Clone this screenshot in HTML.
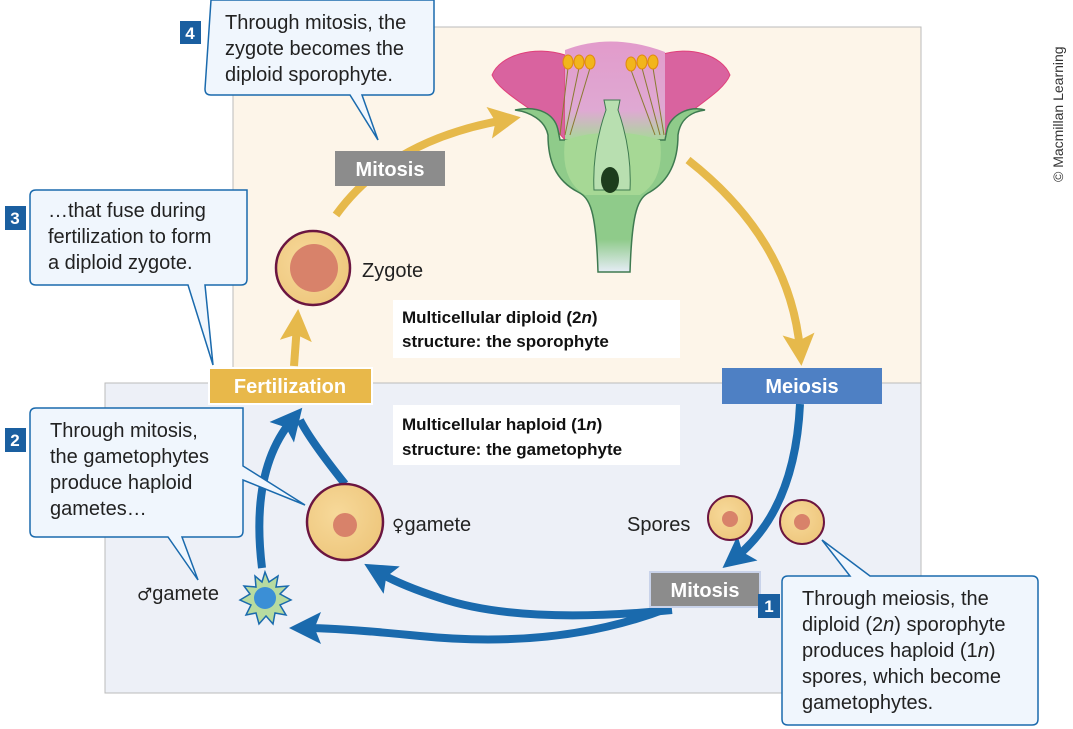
<!DOCTYPE html>
<html><head><meta charset="utf-8"><style>
body{margin:0;background:#fff}
svg{display:block;font-family:"Liberation Sans",sans-serif}
.t{font-size:20px;fill:#222}
.b{font-weight:bold}
.sym{font-family:"DejaVu Sans",sans-serif;font-size:17px}
</style></head><body>
<svg width="1073" height="729" viewBox="0 0 1073 729">
<defs>
<marker id="ya" markerWidth="4" markerHeight="4" refX="2" refY="2" orient="auto" markerUnits="strokeWidth"><path d="M0,0 L4,2 L0,4 L0.8,2z" fill="#e6b94b"/></marker>
<marker id="ba" markerWidth="4" markerHeight="4" refX="2" refY="2" orient="auto" markerUnits="strokeWidth"><path d="M0,0 L4,2 L0,4 L0.8,2z" fill="#1a6aad"/></marker>
<radialGradient id="cell" cx="0.4" cy="0.4" r="0.7"><stop offset="0" stop-color="#f7d99a"/><stop offset="1" stop-color="#edc57a"/></radialGradient>
<linearGradient id="pet" x1="0" y1="0" x2="0" y2="1"><stop offset="0" stop-color="#e29bcb"/><stop offset="0.7" stop-color="#dfa9d3"/><stop offset="1" stop-color="#a8d89a"/></linearGradient>
<linearGradient id="stem" x1="0" y1="0" x2="0" y2="1"><stop offset="0.8" stop-color="#8fcb8a"/><stop offset="1" stop-color="#e6ecf6"/></linearGradient>
</defs>
<rect x="233" y="27" width="688" height="356" fill="#fdf5e9" stroke="#bbb"/>
<rect x="105" y="383" width="816" height="310" fill="#edf0f7" stroke="#bbb"/>

<!-- flower -->
<g>
<path d="M565,55 C535,45 500,55 492,75 C500,95 540,110 565,140 Z" fill="#d9639f" stroke="#e0407a" stroke-width="1"/>
<path d="M660,55 C690,45 722,55 730,75 C722,95 685,110 660,140 Z" fill="#d9639f" stroke="#e0407a" stroke-width="1"/>
<path d="M565,50 Q612,32 665,52 L665,140 L565,140 Z" fill="url(#pet)"/>
<path d="M515,110 C540,105 555,115 558,130 L560,140 L665,140 L667,130 C670,115 690,105 705,110 C690,112 680,120 678,135 C678,160 670,180 650,192 C638,198 632,210 630,272 L598,272 C596,210 590,198 578,192 C555,180 548,160 548,135 C545,120 530,112 515,110Z" fill="url(#stem)" stroke="#3e7a50" stroke-width="1.5"/>
<path d="M565,140 Q612,125 660,140 Q665,180 640,195 L585,195 Q560,180 565,140Z" fill="#a6d895"/>
<path d="M604,100 L620,100 L618,110 Q632,150 630,190 L594,190 Q592,150 606,110Z" fill="#b8dfb0" stroke="#3e7a50"/>
<ellipse cx="610" cy="180" rx="9" ry="13" fill="#1d3d1d"/>
<g stroke="#8a7a30" stroke-width="1" fill="none"><path d="M568,68 L560,135"/><path d="M579,68 L565,135"/><path d="M590,68 L570,135"/><path d="M631,70 L655,135"/><path d="M642,68 L660,135"/><path d="M653,68 L664,135"/></g>
<g fill="#f2b51c" stroke="#e08a10"><ellipse cx="568" cy="62" rx="5" ry="7"/><ellipse cx="579" cy="62" rx="5" ry="7"/><ellipse cx="590" cy="62" rx="5" ry="7"/><ellipse cx="631" cy="64" rx="5" ry="7"/><ellipse cx="642" cy="62" rx="5" ry="7"/><ellipse cx="653" cy="62" rx="5" ry="7"/></g>
</g>

<!-- yellow arrows -->
<path d="M336,215 Q390,140 505,120" fill="none" stroke="#e6b94b" stroke-width="8" marker-end="url(#ya)"/>
<path d="M688,160 Q790,240 800,350" fill="none" stroke="#e6b94b" stroke-width="8" marker-end="url(#ya)"/>
<path d="M294,366 L297,325" fill="none" stroke="#e6b94b" stroke-width="8" marker-end="url(#ya)"/>

<!-- blue arrows -->
<path d="M800,404 Q795,510 735,558" fill="none" stroke="#1a6aad" stroke-width="8" marker-end="url(#ba)"/>
<path d="M668,608 Q560,650 420,636 Q340,628 305,628" fill="none" stroke="#1a6aad" stroke-width="8" marker-end="url(#ba)"/>
<path d="M672,610 Q520,625 440,598 Q400,585 378,572" fill="none" stroke="#1a6aad" stroke-width="8" marker-end="url(#ba)"/>
<path d="M262,568 Q250,470 292,420" fill="none" stroke="#1a6aad" stroke-width="8" marker-end="url(#ba)"/>
<path d="M345,484 Q310,440 300,420" fill="none" stroke="#1a6aad" stroke-width="8"/>

<!-- labels -->
<rect x="335" y="151" width="110" height="35" fill="#8c8c8c"/>
<text x="390" y="176" text-anchor="middle" class="b" font-size="20" fill="#fff">Mitosis</text>
<rect x="722" y="368" width="160" height="36" fill="#4e80c4"/>
<text x="802" y="393" text-anchor="middle" class="b" font-size="20" fill="#fff">Meiosis</text>
<rect x="209" y="368" width="163" height="36" fill="#e8b84a" stroke="#fff" stroke-width="2"/>
<text x="290" y="393" text-anchor="middle" class="b" font-size="20" fill="#fff">Fertilization</text>
<rect x="650" y="572" width="110" height="35" fill="#8c8c8c" stroke="#c9d3ea" stroke-width="2"/>
<text x="705" y="597" text-anchor="middle" class="b" font-size="20" fill="#fff">Mitosis</text>

<rect x="393" y="300" width="287" height="58" fill="#fff"/>
<text x="402" y="323" class="b" font-size="17" fill="#111">Multicellular diploid (2<tspan font-style="italic">n</tspan>)</text>
<text x="402" y="347" class="b" font-size="17" fill="#111">structure: the sporophyte</text>
<rect x="393" y="405" width="287" height="60" fill="#fff"/>
<text x="402" y="430" class="b" font-size="17" fill="#111">Multicellular haploid (1<tspan font-style="italic">n</tspan>)</text>
<text x="402" y="455" class="b" font-size="17" fill="#111">structure: the gametophyte</text>

<!-- cells -->
<circle cx="313" cy="268" r="37" fill="url(#cell)" stroke="#6b1540" stroke-width="2.5"/>
<circle cx="314" cy="268" r="24" fill="#d8826a"/>
<text x="362" y="277" class="t">Zygote</text>
<circle cx="345" cy="522" r="38" fill="url(#cell)" stroke="#6b1540" stroke-width="2.5"/>
<circle cx="345" cy="525" r="12" fill="#d8826a"/>
<text x="392" y="531" class="t"><tspan class="sym">♀</tspan>gamete</text>
<circle cx="730" cy="518" r="22" fill="url(#cell)" stroke="#6b1540" stroke-width="2"/>
<circle cx="730" cy="519" r="8" fill="#d8826a"/>
<circle cx="802" cy="522" r="22" fill="url(#cell)" stroke="#6b1540" stroke-width="2"/>
<circle cx="802" cy="522" r="8" fill="#d8826a"/>
<text x="627" y="531" class="t">Spores</text>
<polygon points="265,572 269,582 278,576 276,587 288,586 280,594 291,600 280,605 286,615 275,613 273,624 266,616 259,624 256,613 246,615 251,605 240,600 250,594 244,586 256,587 255,576 262,582" fill="#b7dba0" stroke="#1a6aad" stroke-width="1.5"/>
<circle cx="265" cy="598" r="11" fill="#3b8fd6"/>

<!-- callouts -->
<g fill="#f0f6fd" stroke="#1a6aad" stroke-width="1.5">
<path d="M211,0 H434 V89 Q434,95 428,95 H362 L378,140 L350,95 H211 Q205,95 205,89 Z"/>
<path d="M36,190 H247 V279 Q247,285 241,285 H205 L213,365 L188,285 H36 Q30,285 30,279 V196 Q30,190 36,190Z"/>
<path d="M36,408 H243 V466 L305,505 L243,480 V531 Q243,537 237,537 H182 L198,580 L168,537 H36 Q30,537 30,531 V414 Q30,408 36,408Z"/>
<path d="M788,576 H850 L822,540 L870,576 H1032 Q1038,576 1038,582 V719 Q1038,725 1032,725 H788 Q782,725 782,719 V582 Q782,576 788,576 Z"/>
</g>
<text x="137" y="600" class="t"><tspan class="sym">♂</tspan>gamete</text>
<g fill="#1a5fa0"><rect x="180" y="21" width="21" height="23"/><rect x="5" y="206" width="21" height="24"/><rect x="5" y="428" width="21" height="24"/><rect x="758" y="594" width="22" height="24"/></g>
<g fill="#fff" class="b" font-size="17" text-anchor="middle"><text x="190" y="39">4</text><text x="15" y="224">3</text><text x="15" y="446">2</text><text x="769" y="612">1</text></g>
<g class="t">
<text x="225" y="29">Through mitosis, the</text><text x="225" y="55">zygote becomes the</text><text x="225" y="81">diploid sporophyte.</text>
<text x="48" y="217">…that fuse during</text><text x="48" y="243">fertilization to form</text><text x="48" y="269">a diploid zygote.</text>
<text x="50" y="437">Through mitosis,</text><text x="50" y="463">the gametophytes</text><text x="50" y="489">produce haploid</text><text x="50" y="515">gametes…</text>
<text x="802" y="605">Through meiosis, the</text><text x="802" y="631">diploid (2<tspan font-style="italic">n</tspan>) sporophyte</text><text x="802" y="657">produces haploid (1<tspan font-style="italic">n</tspan>)</text><text x="802" y="683">spores, which become</text><text x="802" y="709">gametophytes.</text>
</g>
<text transform="translate(1063,182) rotate(-90)" font-size="14" fill="#333">© Macmillan Learning</text>
</svg>
</body></html>
